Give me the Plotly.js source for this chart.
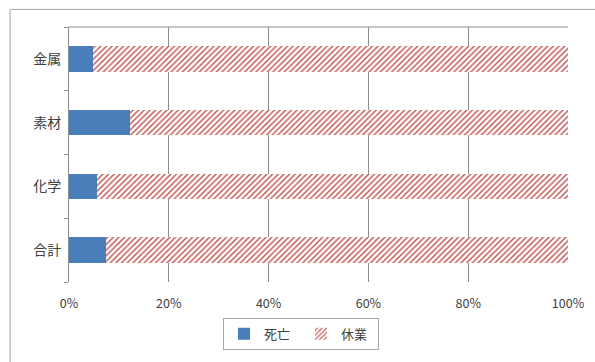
<!DOCTYPE html>
<html>
<head>
<meta charset="utf-8">
<script src="https://cdn.plot.ly/plotly-3.0.1.min.js"></script>
<style>html,body{margin:0;padding:0;background:#fff;}#chart{width:595px;height:362px;}</style>
</head>
<body>
<div id="chart"></div>
<script>
// Share of deaths vs. lost-time injuries by industry (percent)
const categories = ['合計', '化学', '素材', '金属'];
const deathShare = [7.4, 5.6, 12.2, 4.8];
const leaveShare = [92.6, 94.4, 87.8, 95.2];
const seriesNames = ['死亡', '休業'];
const tickValues = [0, 20, 40, 60, 80, 100];
const tickLabels = ['0%', '20%', '40%', '60%', '80%', '100%'];

const font = 'Noto Sans CJK JP, sans-serif';

const traces = [
  {
    type: 'bar', orientation: 'h', name: seriesNames[0],
    y: categories, x: deathShare,
    marker: {color: '#4A7EBB', line: {width: 0}},
    hoverinfo: 'skip'
  },
  {
    type: 'bar', orientation: 'h', name: seriesNames[1],
    y: categories, x: leaveShare,
    marker: {
      color: '#ffffff', line: {width: 0},
      pattern: {shape: '/', fgcolor: '#C0504D', bgcolor: '#ffffff', size: 4, solidity: 0.35}
    },
    hoverinfo: 'skip'
  }
];

const layout = {
  width: 595, height: 362,
  margin: {l: 69, r: 27, t: 27, b: 73},
  paper_bgcolor: '#ffffff', plot_bgcolor: '#ffffff',
  barmode: 'stack', bargap: 0.6,
  font: {family: font, size: 12, color: '#404040'},
  showlegend: true,
  legend: {
    orientation: 'h', traceorder: 'normal',
    x: 0.465, xanchor: 'center', y: -0.14, yanchor: 'top',
    bordercolor: '#A6A6A6', borderwidth: 1,
    font: {family: font, size: 13, color: '#404040'},
    itemwidth: 30, tracegroupgap: 0, entrywidth: 32
  },
  xaxis: {
    range: [0, 100], tickvals: tickValues, ticktext: tickLabels,
    showgrid: true, gridcolor: '#8C8C8C', gridwidth: 1,
    zeroline: false, showline: false, ticks: '',
    ticklabelstandoff: 12,
    tickfont: {family: font, size: 12.5, color: '#404040'},
    fixedrange: true
  },
  yaxis: {
    type: 'category', categoryorder: 'array', categoryarray: categories,
    showline: true, linecolor: '#8C8C8C', linewidth: 1,
    ticks: 'outside', tickson: 'boundaries', ticklen: 4, tickcolor: '#8C8C8C',
    ticklabelstandoff: 4,
    showgrid: false, zeroline: false,
    tickfont: {family: font, size: 14, color: '#404040'},
    fixedrange: true
  },
  shapes: [
    // outer chart frame
    {type: 'rect', xref: 'paper', yref: 'paper', x0: -0.118, x1: 1.2, y0: -0.6, y1: 1.069,
     line: {color: '#A6A6A6', width: 1}, fillcolor: 'rgba(0,0,0,0)', layer: 'below'},
    // top edge of plot area
    {type: 'line', xref: 'paper', yref: 'paper', x0: 0, x1: 1, y0: 1, y1: 1,
     line: {color: '#8C8C8C', width: 1}}
  ]
};

Plotly.newPlot('chart', traces, layout, {displayModeBar: false, staticPlot: true});
</script>
</body>
</html>
